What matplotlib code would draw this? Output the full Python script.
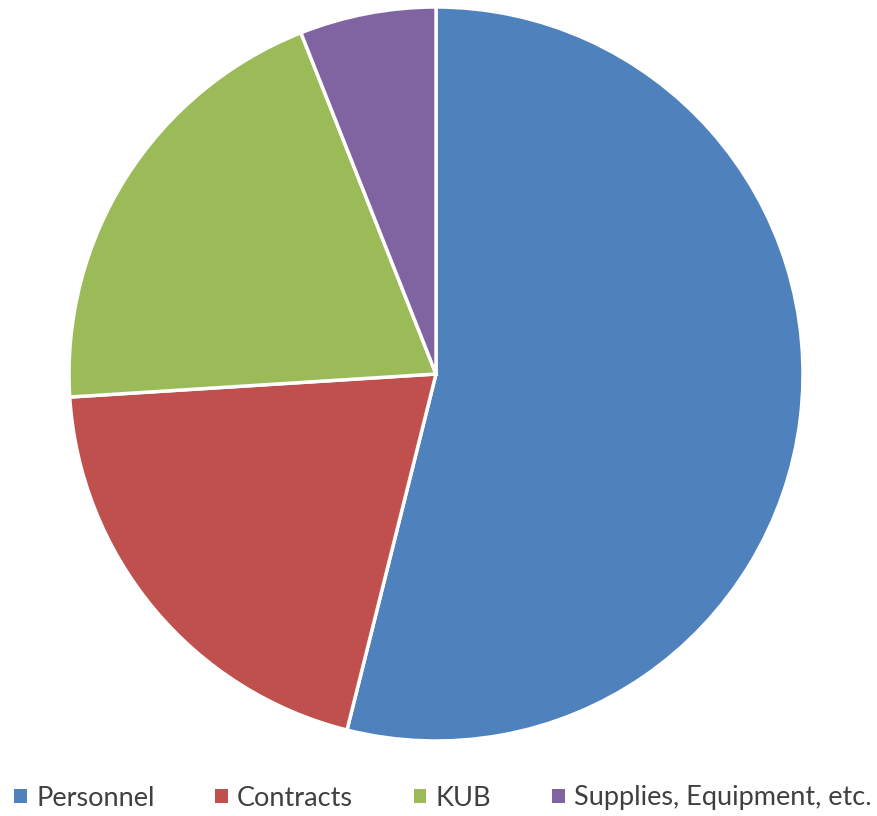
import matplotlib
matplotlib.use("Agg")
import matplotlib.pyplot as plt
from matplotlib.patches import Patch

categories = ["Personnel", "Contracts", "KUB", "Supplies, Equipment, etc."]
values = [53.9, 20.1, 20.0, 6.0]
colors = ["#4F81BD", "#C0504D", "#9BBB59", "#8064A2"]

plt.rcParams['font.family'] = ['Lato', 'DejaVu Sans']

fig = plt.figure(figsize=(8.77, 8.16), dpi=100)
r = 367
cx, cy = 436, 374
W, H = 877, 816
ax = fig.add_axes([(cx - r) / W, (H - cy - r) / H, 2 * r / W, 2 * r / H])
ax.pie(values, colors=colors, startangle=90, counterclock=False,
       wedgeprops=dict(edgecolor="white", linewidth=2.5), radius=1)
ax.set_xlim(-1.0, 1.0)
ax.set_ylim(-1.0, 1.0)
ax.set_aspect("equal")
ax.axis("off")

handles = [Patch(facecolor=c, edgecolor="none") for c in colors]
fig.legend(handles, categories, loc="center", bbox_to_anchor=(443 / W, 1 - 798 / H),
           ncol=4, frameon=False, fontsize=19.5, handlelength=0.45, handleheight=0.45,
           handletextpad=0.35, columnspacing=2.25, labelcolor="#404040")

fig.savefig("out.png", dpi=100)
